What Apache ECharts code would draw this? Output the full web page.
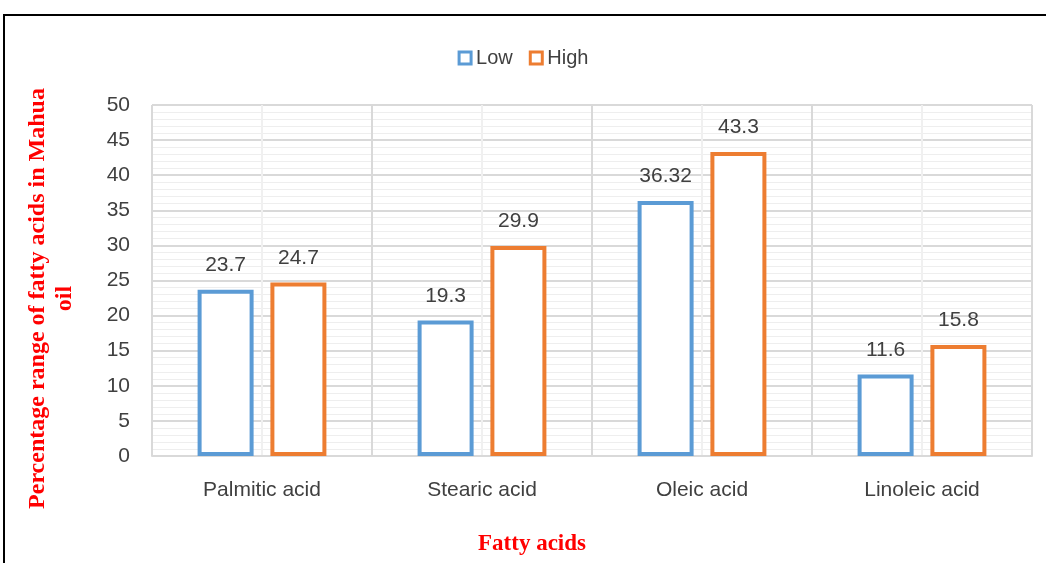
<!DOCTYPE html>
<html>
<head>
<meta charset="utf-8">
<script src="https://cdn.jsdelivr.net/npm/echarts@6/dist/echarts.min.js"></script>
<style>
  html, body { margin: 0; padding: 0; background: #fff; }
  #main { width: 1046px; height: 563px; }
</style>
</head>
<body>
<div id="main"></div>
<script>
// chart data
var categories = ['Palmitic acid', 'Stearic acid', 'Oleic acid', 'Linoleic acid'];
var lowValues = [23.7, 19.3, 36.32, 11.6];
var highValues = [24.7, 29.9, 43.3, 15.8];
var seriesNames = ['Low', 'High'];
var yTicks = { min: 0, max: 50, interval: 5 };

var textColor = '#404040';
var labelFont = 'Liberation Sans';

var chart = echarts.init(document.getElementById('main'));

function barSeries(name, values, color) {
    return {
        name: name,
        type: 'bar',
        data: values,
        barWidth: 56,
        barGap: '30%',
        itemStyle: {
            color: '#fff',
            borderColor: color,
            borderWidth: 4
        },
        label: {
            show: true,
            position: 'top',
            distance: 14,
            color: textColor,
            fontFamily: labelFont,
            fontSize: 21
        }
    };
}

var option = {
    animation: false,
    backgroundColor: '#fff',
    graphic: [{
        type: 'rect',
        shape: { x: 4, y: 15, width: 1100, height: 600 },
        style: { fill: 'none', stroke: '#000', lineWidth: 2 },
        silent: true
    }],
    legend: {
        data: seriesNames,
        top: 43,
        left: 'center',
        icon: 'rect',
        itemWidth: 12,
        itemHeight: 12,
        itemGap: 16,
        itemStyle: { borderWidth: 3 },
        textStyle: { color: textColor, fontFamily: labelFont, fontSize: 20 }
    },
    grid: { left: 152, right: 14, top: 105, bottom: 107, outerBoundsMode: 'none' },
    xAxis: [{
        type: 'category',
        data: categories,
        name: 'Fatty acids',
        nameLocation: 'middle',
        nameGap: 77,
        nameTextStyle: {
            color: '#ff0000', fontFamily: 'Liberation Serif', fontWeight: 'bold', fontSize: 23,
            padding: [0, 120, 0, 0]
        },
        axisLine: { lineStyle: { color: '#d9d9d9', width: 2 } },
        axisTick: { show: false },
        axisLabel: { color: textColor, fontFamily: labelFont, fontSize: 21, margin: 24 },
        splitLine: { show: false }
    }, {
        // helper axis for the vertical grid lines
        type: 'value',
        position: 'top',
        min: 0,
        max: 4,
        interval: 1,
        axisLine: { show: false },
        axisTick: { show: false },
        axisLabel: { show: false },
        splitLine: { show: true, lineStyle: { color: '#d9d9d9', width: 2 } },
        minorTick: { show: false, splitNumber: 2 },
        minorSplitLine: { show: true, lineStyle: { color: '#f0f0f0', width: 2 } }
    }],
    yAxis: {
        type: 'value',
        min: yTicks.min,
        max: yTicks.max,
        interval: yTicks.interval,
        name: 'Percentage range of fatty acids in Mahua\noil',
        nameLocation: 'middle',
        nameRotate: 90,
        nameGap: 74,
        nameTextStyle: {
            color: '#ff0000', fontFamily: 'Liberation Serif', fontWeight: 'bold',
            fontSize: 24, lineHeight: 27, align: 'center',
            padding: [0, 36, 0, 0]
        },
        axisLine: { show: false },
        axisTick: { show: false },
        axisLabel: { color: textColor, fontFamily: labelFont, fontSize: 21, margin: 22 },
        splitLine: { lineStyle: { color: '#d9d9d9', width: 2 } },
        minorTick: { show: false, splitNumber: 5 },
        minorSplitLine: { show: true, lineStyle: { color: '#eeeeee', width: 1 } }
    },
    series: [
        barSeries(seriesNames[0], lowValues, '#5b9bd5'),
        barSeries(seriesNames[1], highValues, '#ed7d31')
    ]
};

chart.setOption(option);
</script>
</body>
</html>
